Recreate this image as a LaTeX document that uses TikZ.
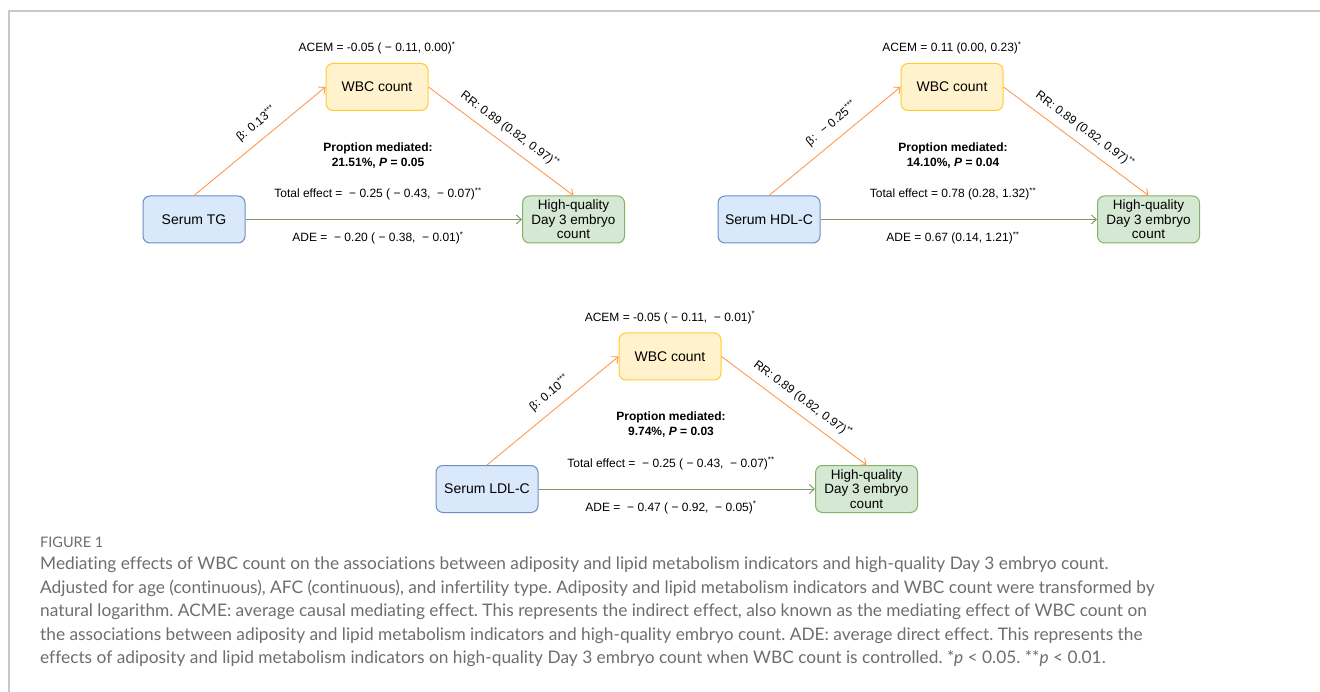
\documentclass[tikz,border=0pt]{standalone}
\usepackage{fontspec}
\setmainfont{Liberation Sans}
\newfontfamily\capfont{Lato}[Ligatures=NoCommon]
\usetikzlibrary{arrows.meta}
\definecolor{bluefill}{HTML}{DAE8FC}
\definecolor{bluedraw}{HTML}{6C8EBF}
\definecolor{yelfill}{HTML}{FFF2CC}
\definecolor{yeldraw}{HTML}{FFCC33}
\definecolor{grnfill}{HTML}{D5E8D4}
\definecolor{grndraw}{HTML}{82B366}
\definecolor{orline}{HTML}{FF9A50}
\definecolor{grline}{HTML}{7A9A68}
\definecolor{framegray}{HTML}{C8C8C8}
\definecolor{capgray}{HTML}{6E6E6E}
\newcommand{\mn}{−}
\newcommand{\mpanel}[9]{%
\begin{scope}[shift={(#1,#2)}]
\node[srcbox] (src#3) at (194,219.5) {#4};
\node[medbox] (wbc#3) at (377,87) {WBC count};
\node[outbox] (hq#3) at (573.5,219.5) {High-quality\\Day 3 embryo\\count};
\draw[orarrow] (src#3.north) -- node[lbl, sloped, pos=0.55, above=8pt] (beta#3) {#6} (wbc#3.west);
\draw[orarrow] (wbc#3.east) -- node[lbl, sloped, midway, above=7pt] (rr#3) {RR: 0.89 (0.82, 0.97)\textsuperscript{**}} (hq#3.north);
\draw[grarrow] (src#3.east) -- (hq#3.west);
\node[lbl] (acem#3) at (377,48) {#5};
\node[lbl, font=\fontsize{12}{15}\selectfont\bfseries, align=center] (prop#3) at (378,155.5) {Proption mediated:\\#7};
\node[lbl] (tot#3) at (378,194) {#8};
\node[lbl] (ade#3) at (378,238) {#9};
\end{scope}}
\tikzset{
  boxbase/.style={rounded corners=7pt, line width=1pt, minimum width=102pt, minimum height=47pt, inner sep=0pt, align=center, font=\fontsize{14}{14.5}\selectfont},
  srcbox/.style={boxbase, fill=bluefill, draw=bluedraw},
  medbox/.style={boxbase, fill=yelfill, draw=yeldraw},
  outbox/.style={boxbase, fill=grnfill, draw=grndraw, font=\fontsize{13.5}{14.5}\selectfont},
  orarrow/.style={draw=orline, line width=0.9pt, -{Straight Barb[length=5pt,width=9pt]}},
  grarrow/.style={draw=grline, line width=0.9pt, -{Straight Barb[length=5pt,width=9pt]}},
  lbl/.style={inner sep=1pt, font=\fontsize{12}{14}\selectfont, text=black},
  capline/.style={anchor=base west, inner sep=0pt, font=\capfont\fontsize{17.3}{20}\selectfont\frenchspacing, text=capgray},
}
\begin{document}
\begin{tikzpicture}[x=1pt, y=-1pt]
\useasboundingbox (0,0) rectangle (1320,692);
\fill[white] (0,0) rectangle (1320,692);
\draw[framegray, line width=1.3pt] (9,692) -- (9,11) -- (1320,11);
\mpanel{0}{0}{a}{Serum TG}{ACEM = -0.05 ( \mn\ 0.11, 0.00)\textsuperscript{*}}{β: 0.13\textsuperscript{***}}{21.51\%, \textit{P} = 0.05}{Total effect = \ \mn\ 0.25 ( \mn\ 0.43, \ \mn\ 0.07)\textsuperscript{**}}{ADE = \ \mn\ 0.20 ( \mn\ 0.38, \ \mn\ 0.01)\textsuperscript{*}}
\mpanel{575}{0}{b}{Serum HDL-C}{ACEM = 0.11 (0.00, 0.23)\textsuperscript{*}}{β: \ \mn\ 0.25\textsuperscript{***}}{14.10\%, \textit{P} = 0.04}{Total effect = 0.78 (0.28, 1.32)\textsuperscript{**}}{ADE = 0.67 (0.14, 1.21)\textsuperscript{**}}
\mpanel{293}{269.5}{c}{Serum LDL-C}{ACEM = -0.05 ( \mn\ 0.11, \ \mn\ 0.01)\textsuperscript{*}}{β: 0.10\textsuperscript{***}}{9.74\%, \textit{P} = 0.03}{Total effect = \ \mn\ 0.25 ( \mn\ 0.43, \ \mn\ 0.07)\textsuperscript{**}}{ADE = \ \mn\ 0.47 ( \mn\ 0.92, \ \mn\ 0.05)\textsuperscript{*}}
\node[capline, font=\capfont\fontsize{14.5}{16}\selectfont] (fig) at (40,547) {FIGURE 1};
\node[capline] (c1) at (40,569.5) {Mediating effects of WBC count on the associations between adiposity and lipid metabolism indicators and high-quality Day 3 embryo count.};
\node[capline] (c2) at (40,593) {Adjusted for age (continuous), AFC (continuous), and infertility type. Adiposity and lipid metabolism indicators and WBC count were transformed by};
\node[capline] (c3) at (40,616.5) {natural logarithm. ACME: average causal mediating effect. This represents the indirect effect, also known as the mediating effect of WBC count on};
\node[capline] (c4) at (40,640) {the associations between adiposity and lipid metabolism indicators and high-quality embryo count. ADE: average direct effect. This represents the};
\node[capline] (c5) at (40,663.5) {effects of adiposity and lipid metabolism indicators on high-quality Day 3 embryo count when WBC count is controlled. *\textit{p} < 0.05. **\textit{p} < 0.01.};
\end{tikzpicture}
\end{document}
